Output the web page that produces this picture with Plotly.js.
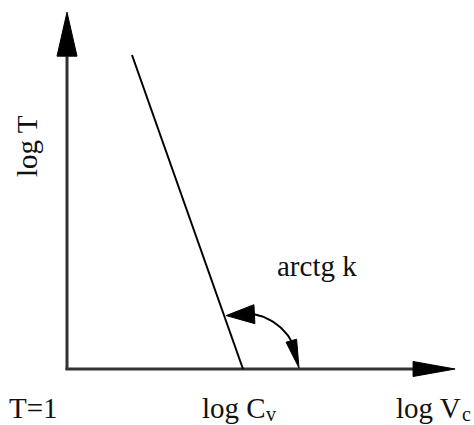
<!DOCTYPE html>
<html>
<head>
<meta charset="utf-8">
<script src="https://cdn.plot.ly/plotly-3.0.1.min.js"></script>
<style>html,body{margin:0;padding:0;background:#fff;}#chart{width:474px;height:425px;}</style>
</head>
<body>
<div id="chart"></div>
<script>
// Schematic data (units: log scale, 1 unit = 44 px)
const originX = 0, originY = 0;
const logCv = 4.0;             // x-intercept of the line
const xAxisEnd = 8.82;         // tip of log Vc axis
const yAxisEnd = 8.11;         // tip of log T axis
const lineX = [1.477, logCv];  // the log T vs log V line
const lineY = [7.136, 0];
const labels = ["T=1", "log C", "v", "log V", "c", "log T", "arctg k"];

const PX = 44; // pixels per unit (both axes equal)
const u = p => p / PX;

function tri(tipX, tipY, baseX, baseY, hw) {
  const dx = tipX - baseX, dy = tipY - baseY;
  const L = Math.hypot(dx, dy);
  const nx = -dy / L * hw, ny = dx / L * hw;
  return {x: [tipX, baseX + nx, baseX - nx, tipX], y: [tipY, baseY + ny, baseY - ny, tipY]};
}

const traces = [];
const axisColor = '#333';
// vertical axis
traces.push({x: [originX, originX], y: [originY - u(1), yAxisEnd - u(44)], mode: 'lines', line: {color: axisColor, width: 3}});
// horizontal axis
traces.push({x: [originX - u(1.5), xAxisEnd - u(41)], y: [originY, originY], mode: 'lines', line: {color: axisColor, width: 3}});
// axis arrowheads
const ta = tri(originX, yAxisEnd, originX, yAxisEnd - u(44), u(10));
traces.push({x: ta.x, y: ta.y, mode: 'lines', fill: 'toself', fillcolor: '#000', line: {color: '#000', width: 1}});
const tb = tri(xAxisEnd, originY, xAxisEnd - u(42), originY, u(7.5));
traces.push({x: tb.x, y: tb.y, mode: 'lines', fill: 'toself', fillcolor: '#000', line: {color: '#000', width: 1}});
// main line
traces.push({x: lineX, y: lineY, mode: 'lines', line: {color: '#000', width: 2}});

// angle arc at the x-intercept
const r = u(56);
const lineAng = Math.atan2(lineY[0] - lineY[1], lineX[0] - lineX[1]);
const arcX = [], arcY = [];
for (let i = 0; i <= 40; i++) {
  const a = 0.45 + (lineAng - 0.5 - 0.45) * i / 40;
  arcX.push(logCv + r * Math.cos(a));
  arcY.push(r * Math.sin(a));
}
traces.push({x: arcX, y: arcY, mode: 'lines', line: {color: '#000', width: 2}});
const a1 = lineAng - 0.035, a1b = a1 - 0.51;
const th1 = tri(logCv + r * Math.cos(a1), r * Math.sin(a1), logCv + r * Math.cos(a1b), r * Math.sin(a1b), u(9.5));
traces.push({x: th1.x, y: th1.y, mode: 'lines', fill: 'toself', fillcolor: '#000', line: {color: '#000', width: 1}});
const a2 = 0.02, a2b = 0.53;
const th2 = tri(logCv + r * Math.cos(a2), r * Math.sin(a2), logCv + r * Math.cos(a2b), r * Math.sin(a2b), u(5.5));
traces.push({x: th2.x, y: th2.y, mode: 'lines', fill: 'toself', fillcolor: '#000', line: {color: '#000', width: 1}});

const fam = 'Liberation Serif, Times New Roman, serif';
const font = {family: fam, size: 29, color: '#111'};
const subFont = {family: fam, size: 20, color: '#111'};
const annotations = [
  {x: originX, y: originY, text: labels[0], showarrow: false, xanchor: 'center', yanchor: 'middle', xshift: -34, yshift: -39, font: font},
  {x: logCv, y: originY, text: labels[1], showarrow: false, xanchor: 'right', yanchor: 'middle', xshift: 24, yshift: -39, borderpad: 0, font: font},
  {x: logCv, y: originY, text: labels[2], showarrow: false, xanchor: 'left', yanchor: 'middle', xshift: 22, yshift: -45, borderpad: 0, font: subFont},
  {x: xAxisEnd, y: originY, text: labels[3], showarrow: false, xanchor: 'right', yanchor: 'middle', xshift: 7, yshift: -39, borderpad: 0, font: font},
  {x: xAxisEnd, y: originY, text: labels[4], showarrow: false, xanchor: 'left', yanchor: 'middle', xshift: 6, yshift: -45, borderpad: 0, font: subFont},
  {x: originX, y: u(223), text: labels[5], showarrow: false, textangle: -90, xanchor: 'center', yanchor: 'middle', xshift: -40, font: font},
  {x: logCv, y: u(103), text: labels[6], showarrow: false, xanchor: 'center', yanchor: 'middle', xshift: 74, font: font}
];

const layout = {
  width: 474, height: 425,
  margin: {l: 0, r: 0, t: 0, b: 0, pad: 0},
  paper_bgcolor: '#fff', plot_bgcolor: '#fff',
  showlegend: false,
  xaxis: {range: [-u(67), u(407)], visible: false, fixedrange: true},
  yaxis: {range: [-u(56), u(369)], visible: false, fixedrange: true},
  annotations: annotations
};
traces.forEach(t => { t.hoverinfo = 'skip'; t.cliponaxis = false; });
Plotly.newPlot('chart', traces, layout, {staticPlot: true, displayModeBar: false});
</script>
</body>
</html>
